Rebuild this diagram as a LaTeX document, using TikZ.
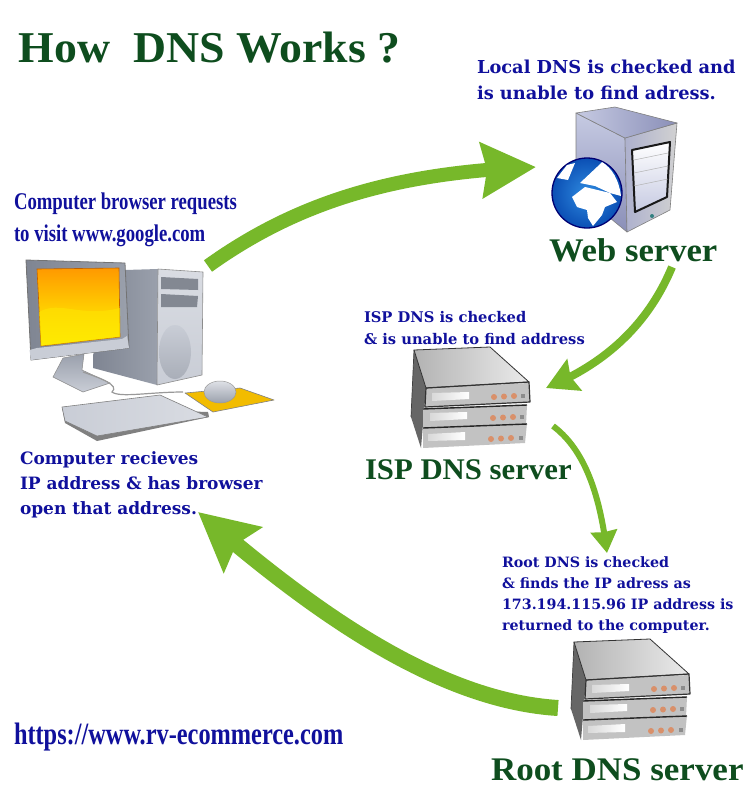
\documentclass[tikz,border=0pt]{standalone}
\usepackage{fontspec}
\usepackage{graphicx}
\setmainfont{Liberation Serif}
\newfontfamily\dv{DejaVu Serif}
\usetikzlibrary{arrows.meta,bending}
\definecolor{arrowgreen}{HTML}{77B82A}
\definecolor{titlegreen}{HTML}{0E4D1E}
\definecolor{navy}{HTML}{10109C}
\definecolor{steelA}{HTML}{7F8592}
\definecolor{steelB}{HTML}{C9CDD6}
\definecolor{steelC}{HTML}{9AA0AC}
\definecolor{perA}{HTML}{C6CAE2}
\definecolor{perB}{HTML}{8A8FB8}
\definecolor{lamp}{HTML}{D9906A}
\definecolor{globeA}{HTML}{2F8BE0}
\definecolor{globeB}{HTML}{0B4FB4}
\tikzset{
  every node/.style={inner sep=0pt,outer sep=0pt},
  heading/.style={anchor=west,text=titlegreen,font=\bfseries},
  note/.style={anchor=west,text=navy,align=left,font=\dv\bfseries},
  flow/.style={draw=arrowgreen,line cap=butt},
}
\newcommand{\wide}[2]{\scalebox{#1}[1]{#2}}
\newcommand{\rackstack}{%
  % left side
  \fill[black!60] (3,3) -- (15,41) -- (10,101) -- (0,70) -- cycle;
  % lower units
  \fill[black!24] (12,80) -- (116,76) -- (114,96) -- (12,101) -- cycle;
  \fill[black!24] (12,61) -- (116,58) -- (115,78) -- (12,81) -- cycle;
  \fill[black!24] (15,41) -- (118,36) -- (119,55) -- (14,60) -- cycle;
  % top
  \shade[left color=black!30,right color=black!8,draw=black!80,line width=.8pt,line join=round]
     (3,3) -- (79,0) -- (118,35) -- (15,41) -- cycle;
  \draw[black!80,line width=1.2pt,line join=round] (15,41) -- (118,35) -- (119,55) -- (14,60) -- cycle;
  \draw[black!85,line width=1.4pt] (12,62) -- (116,58);
  \draw[black!85,line width=1.4pt] (12,81) -- (116,77);
  \draw[black!75,line width=.7pt] (3,3) -- (0,70);
  % slots
  \shade[left color=black!15,right color=white] (21,46) -- (58,45) -- (58,52) -- (21,54) -- cycle;
  \shade[left color=black!15,right color=white] (19,66) -- (56,65) -- (56,72) -- (19,74) -- cycle;
  \shade[left color=black!15,right color=white] (17,87) -- (54,85) -- (54,93) -- (17,94) -- cycle;
  % lights
  \foreach \a/\b/\c/\d/\y in {83/93/103/112/50, 82/92/102/111/71, 80/90/100/110/92}{
    \fill[lamp] (\a,\y) circle (3);
    \fill[lamp] (\b,\y-.5) circle (3);
    \fill[lamp] (\c,\y-1) circle (3);
    \fill[black!45] (\d-2.3,\y-3.2) rectangle (\d+2.3,\y+1.4);
  }
}
\begin{document}
\begin{tikzpicture}[x=1pt,y=-1pt]
\useasboundingbox (0,0) rectangle (747,793);
\fill[white] (0,0) rectangle (747,793);

% ---- desktop computer ----
\begin{scope}
  % stand
  \shade[top color=steelC,bottom color=steelB,draw=black!45,line width=.5pt] (63,358) -- (53,377) -- (83,392) -- (110,383) -- (82,370) -- (84,354) -- cycle;
  % tower side
  \shade[left color=steelA,right color=steelC] (125,270) -- (158,269) -- (157,385) -- (93,368) -- (93,355) -- cycle;
  % tower front
  \shade[top color=steelB!70!white,bottom color=steelB,draw=black!45,line width=.6pt,line join=round]
     (158,269) -- (203,272) -- (202,375) -- (157,385) -- cycle;
  \fill[steelC!85!black] (161,277) -- (198,279) -- (198,290) -- (161,289) -- cycle;
  \fill[steelC!85!black] (161,294) -- (198,296) -- (197,307) -- (161,307) -- cycle;
  \shade[top color=steelB,bottom color=steelC!85!white] (175,352) ellipse (16 and 27);
  % monitor
  \shade[left color=steelA,right color=steelC,draw=black!55,line width=.8pt,line join=round]
     (26,260) -- (125,263) -- (129,348) -- (31,360) -- cycle;
  \fill[steelB] (129,348) -- (31,360) -- (29.5,350) -- (37,348) -- (122,339) -- (127,336) -- cycle;
  \shade[top color=orange!80!yellow,bottom color=yellow!90!orange,middle color=yellow!60!orange,draw=orange!75!black,line width=.6pt]
     (37,269) -- (119,268) -- (120,337) -- (41,346) -- cycle;
  \fill[yellow!90!orange,opacity=.55] (39,312) .. controls (60,300) and (80,318) .. (120,308) -- (120,337) -- (41,346) -- cycle;
  % cable
  \draw[black!40,line width=1.2pt] (83,372) .. controls (100,378) and (120,385) .. (112,392) .. controls (120,398) and (150,392) .. (183,392);
  % mouse pad
  \fill[orange!45!yellow!95!black,draw=black!50,line width=.6pt,line join=round] (185,393) -- (240,388) -- (274,400) -- (213,412) -- cycle;
  \shade[top color=steelB!60!white,bottom color=steelC,draw=black!40,line width=.5pt] (220,392) ellipse (16 and 11);
  % keyboard
  \fill[black!50] (62,407) -- (65,423) -- (97,441) -- (209,417) -- (208,412) -- cycle;
  \shade[left color=steelB,right color=steelB!70!white,draw=black!50,line width=.6pt,line join=round]
     (62,407) -- (160,395) -- (208,417) -- (97,436) -- (65,421) -- cycle;
\end{scope}

% ---- web server ----
\shade[top color=perA,bottom color=perB,draw=black!50,line width=.6pt,line join=round] (576,113) -- (625,138) -- (627,232) -- (576,190) -- cycle;
\shade[left color=perB!70!white,right color=black!18,draw=black!50,line width=.6pt,line join=round]
   (625,138) -- (677,123) -- (670,210) -- (627,232) -- cycle;
\shade[left color=perA,right color=perB,draw=black!50,line width=.6pt,line join=round]
   (576,113) -- (615,107) -- (677,123) -- (625,138) -- cycle;
\shade[top color=white,bottom color=perA,draw=black!90,line width=2pt,line join=round]
   (632,150) -- (670,142) -- (667,197) -- (635,212) -- cycle;
\foreach \y/\z in {160/153,173/166,186/179}{\draw[black!30,line width=.5pt] (634,\y) -- (668,\z);}
\fill[teal!60!gray] (652,216) circle (2);
% globe
\shade[inner color=globeA,outer color=globeB] (587,193) circle (35);
\draw[blue!45!black,line width=1.3pt] (587,193) circle (35);
% continents
\fill[white] (557,178) -- (567,165) -- (575,163) -- (568,180) -- cycle;
\fill[white] (580,183) -- (597,167) -- (602,162) .. controls (612,168) and (619,180) .. (621,196) -- (610,193) -- (595,186) -- cycle;
\fill[white] (572,197) -- (585,187) -- (610,193) -- (617,202) -- (605,207) -- (602,215) -- (593,226) -- (588,218) -- (587,210) -- (577,207) -- cycle;

% ---- rack servers ----
\begin{scope}[shift={(411,347)}]\rackstack\end{scope}
\begin{scope}[shift={(571,639)}]\rackstack\end{scope}

% ---- anchors for the arrows ----
\coordinate (pcOut) at (208,266);
\coordinate (webIn) at (536,167);
\coordinate (webOut) at (672,267);
\coordinate (ispIn) at (546,388);
\coordinate (ispOut) at (553,426);
\coordinate (rootIn) at (607,553);
\coordinate (rootOut) at (558,708);
\coordinate (pcIn) at (198,512);

\draw[flow,line width=14pt,-{Stealth[length=54pt,width=54pt,inset=5pt,flex=1]}] (pcOut) .. controls (300,200) and (400,172) .. (webIn);
\draw[flow,line width=8pt,-{Stealth[length=31pt,width=34pt,inset=4pt,flex=1]}] (webOut) .. controls (650,320) and (610,362) .. (ispIn);
\draw[flow,line width=6pt,-{Stealth[length=22pt,width=26pt,inset=1pt,flex=1]}] (ispOut) .. controls (585,450) and (600,495) .. (rootIn);
\draw[flow,line width=16pt,-{Stealth[length=58pt,width=58pt,inset=8pt,flex=1]}] (rootOut) .. controls (430,700) and (300,600) .. (pcIn);

% ---- texts ----
\node[heading,font=\bfseries\fontsize{44}{44}\selectfont] (title) at (19,48) {\wide{1.04}{How\ \ DNS Works ?}};
\node[note,font=\dv\bfseries\fontsize{17.8}{26}\selectfont] (localnote) at (477,80) {Local DNS is checked and\\is unable to find adress.};
\node[heading,font=\bfseries\fontsize{33}{33}\selectfont] (webname) at (549,250) {\wide{1.05}{Web server}};
\node[anchor=west,text=navy,align=left] (browsernote) at (14,220) {\scalebox{.78}[1]{\parbox{300pt}{\bfseries\fontsize{24}{32}\selectfont Computer browser requests\\to visit www.google.com}}};
\node[note,font=\dv\bfseries\fontsize{14.7}{22}\selectfont] (ispnote) at (364,328) {ISP DNS is checked\\\& is unable to find address};
\node[heading,font=\bfseries\fontsize{30}{30}\selectfont] (ispname) at (365,470) {\wide{1.025}{ISP DNS server}};
\node[note,font=\dv\bfseries\fontsize{17}{25}\selectfont] (pcnote) at (20,485) {Computer recieves\\IP address \& has browser\\open that address.};
\node[note,font=\dv\bfseries\fontsize{14.25}{21}\selectfont] (rootnote) at (502,595) {Root DNS is checked\\\& finds the IP adress as\\173.194.115.96 IP address is\\returned to the computer.};
\node[anchor=west,text=navy] (url) at (14,737) {\scalebox{.785}[1]{\bfseries\fontsize{31}{31}\selectfont https://www.rv-ecommerce.com}};
\node[heading,font=\bfseries\fontsize{33}{33}\selectfont] (rootname) at (491,770) {\wide{1.06}{Root DNS server}};
\end{tikzpicture}
\end{document}
